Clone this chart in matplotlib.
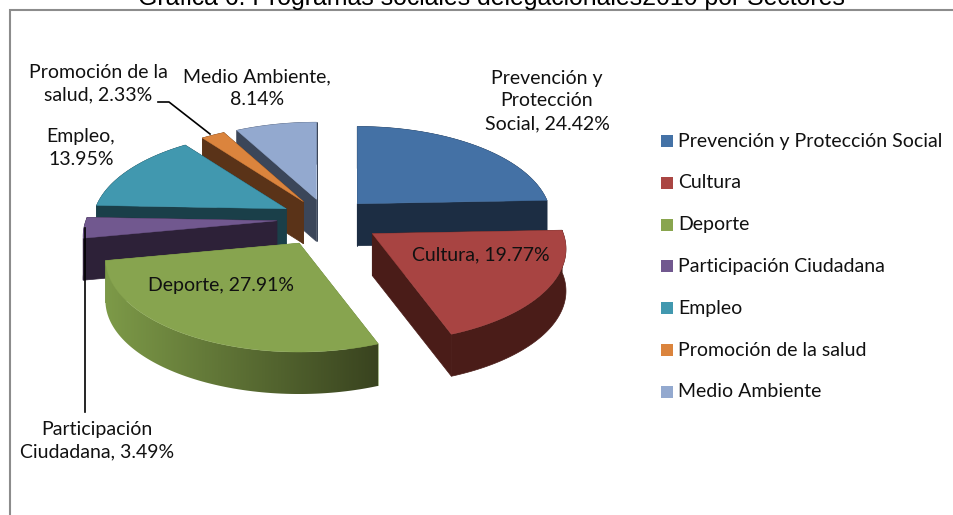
#!/usr/bin/env python3
import numpy as np
import matplotlib
matplotlib.use("Agg")
import matplotlib.pyplot as plt
from matplotlib.colors import LinearSegmentedColormap
from matplotlib.patches import Polygon

categories = ["Prevención y Protección Social", "Cultura", "Deporte",
              "Participación Ciudadana", "Empleo", "Promoción de la salud",
              "Medio Ambiente"]
values = [24.42, 19.77, 27.91, 3.49, 13.95, 2.33, 8.14]
top_colors = ["#4471a5", "#a84442", "#87a44f", "#71588f", "#4198af", "#db843d", "#93a9cf"]
side_colors = ["#1c2d43", "#4a1c18", "#6f8a42", "#2d2138", "#1a3f49", "#5a3318", "#3b4659"]
legend_colors = ["#4472a6", "#aa4643", "#89a54e", "#71588f", "#4198af", "#db843d", "#93a9cf"]
title = "Gráfica 6. Programas sociales delegacionales2010 por Sectores"

# pie geometry, in pixels
CX, CY = 327, 219
A, B = 191, 93
PERSP = 0.17
DEPTH = 42
EXPLODE = 0.26
FONT = "Lato"

rim_cmap = LinearSegmentedColormap.from_list("rim", ["#7d9a48", "#39431f"])

def proj(theta_deg):
    t = np.radians(theta_deg)
    f = 1 - PERSP * np.cos(t)
    return A * np.sin(t) * f, -B * np.cos(t) * f

fig = plt.figure(figsize=(9.54, 5.15), dpi=100)
ax = fig.add_axes([0, 0, 1, 1])
ax.set_xlim(0, 954)
ax.set_ylim(515, 0)
ax.axis("off")

# chart frame
ax.plot([10, 10, 954], [515, 10, 10], color="#8c8c8c", lw=1.5, solid_joinstyle="miter")

# the title runs off the top edge in the original too
ax.text(491.5, 5.5, title, ha="center", va="baseline", fontsize=17.9,
        family="Liberation Sans", color="black")

edges = np.concatenate([[0], np.cumsum(values) / np.sum(values) * 360])

def draw_wedge(i):
    a0, a1 = edges[i], edges[i + 1]
    ex, ey = proj((a0 + a1) / 2)
    ax0, ay0 = CX + EXPLODE * ex, CY + EXPLODE * ey
    th = np.linspace(a0, a1, 80)
    px, py = proj(th)
    px = ax0 + px
    py = ay0 + py
    side = side_colors[i]
    # radial cut faces
    for k in (0, -1):
        ax.fill([ax0, px[k], px[k], ax0], [ay0, py[k], py[k] + DEPTH, ay0 + DEPTH],
                color=side, lw=0.5)
    # outer rim, the big green slice gets a shaded one
    rim_x = np.r_[px, px[::-1]]
    rim_y = np.r_[py, py[::-1] + DEPTH]
    if categories[i] == "Deporte":
        rim = Polygon(np.c_[rim_x, rim_y], closed=True, transform=ax.transData,
                      facecolor="none", edgecolor="none")
        ax.add_patch(rim)
        im = ax.imshow(np.linspace(0, 1, 256)[None, :], cmap=rim_cmap, aspect="auto",
                       extent=(px.min(), px.max(), rim_y.max(), rim_y.min()), zorder=1.5)
        im.set_clip_path(rim)
    else:
        ax.fill(rim_x, rim_y, color=side, lw=0.5)
    ax.fill(np.r_[ax0, px], np.r_[ay0, py], color=top_colors[i], lw=0.3,
            zorder=1.6 if categories[i] == "Deporte" else None)

# back slices first
for i in [6, 5, 4, 3, 0, 2, 1]:
    draw_wedge(i)
ax.set_xlim(0, 954)
ax.set_ylim(515, 0)

# data labels
lab = dict(ha="center", va="center", fontsize=14, family=FONT, color="#111111",
           linespacing=1.4, zorder=5)
ax.text(547, 101, f"Prevención y\nProtección\nSocial, {values[0]:.2f}%", **lab)
ax.text(481, 255, f"Cultura, {values[1]:.2f}%", **lab)
ax.text(221, 285, f"Deporte, {values[2]:.2f}%", **lab)
ax.text(97, 441, f"Participación\nCiudadana, {values[3]:.2f}%", **lab)
ax.text(81, 148, f"Empleo,\n{values[4]:.2f}%", **lab)
ax.text(98, 84, f"Promoción de la\nsalud, {values[5]:.2f}%", **lab)
ax.text(257, 88, f"Medio Ambiente,\n{values[6]:.2f}%", **lab)

# leader lines
ax.plot([158, 169, 210], [102, 102, 134], color="black", lw=1.2, zorder=4)
ax.plot([85, 85], [228, 412], color="black", lw=1.2, zorder=4)

# legend
for i, name in enumerate(categories):
    y = 141 + i * 41.8
    ax.fill([661, 673, 673, 661], [y - 6, y - 6, y + 6, y + 6], color=legend_colors[i], lw=0)
    ax.text(678, y, name, ha="left", va="center", fontsize=14, family=FONT, color="#111111")

fig.savefig("out.png", dpi=100)
